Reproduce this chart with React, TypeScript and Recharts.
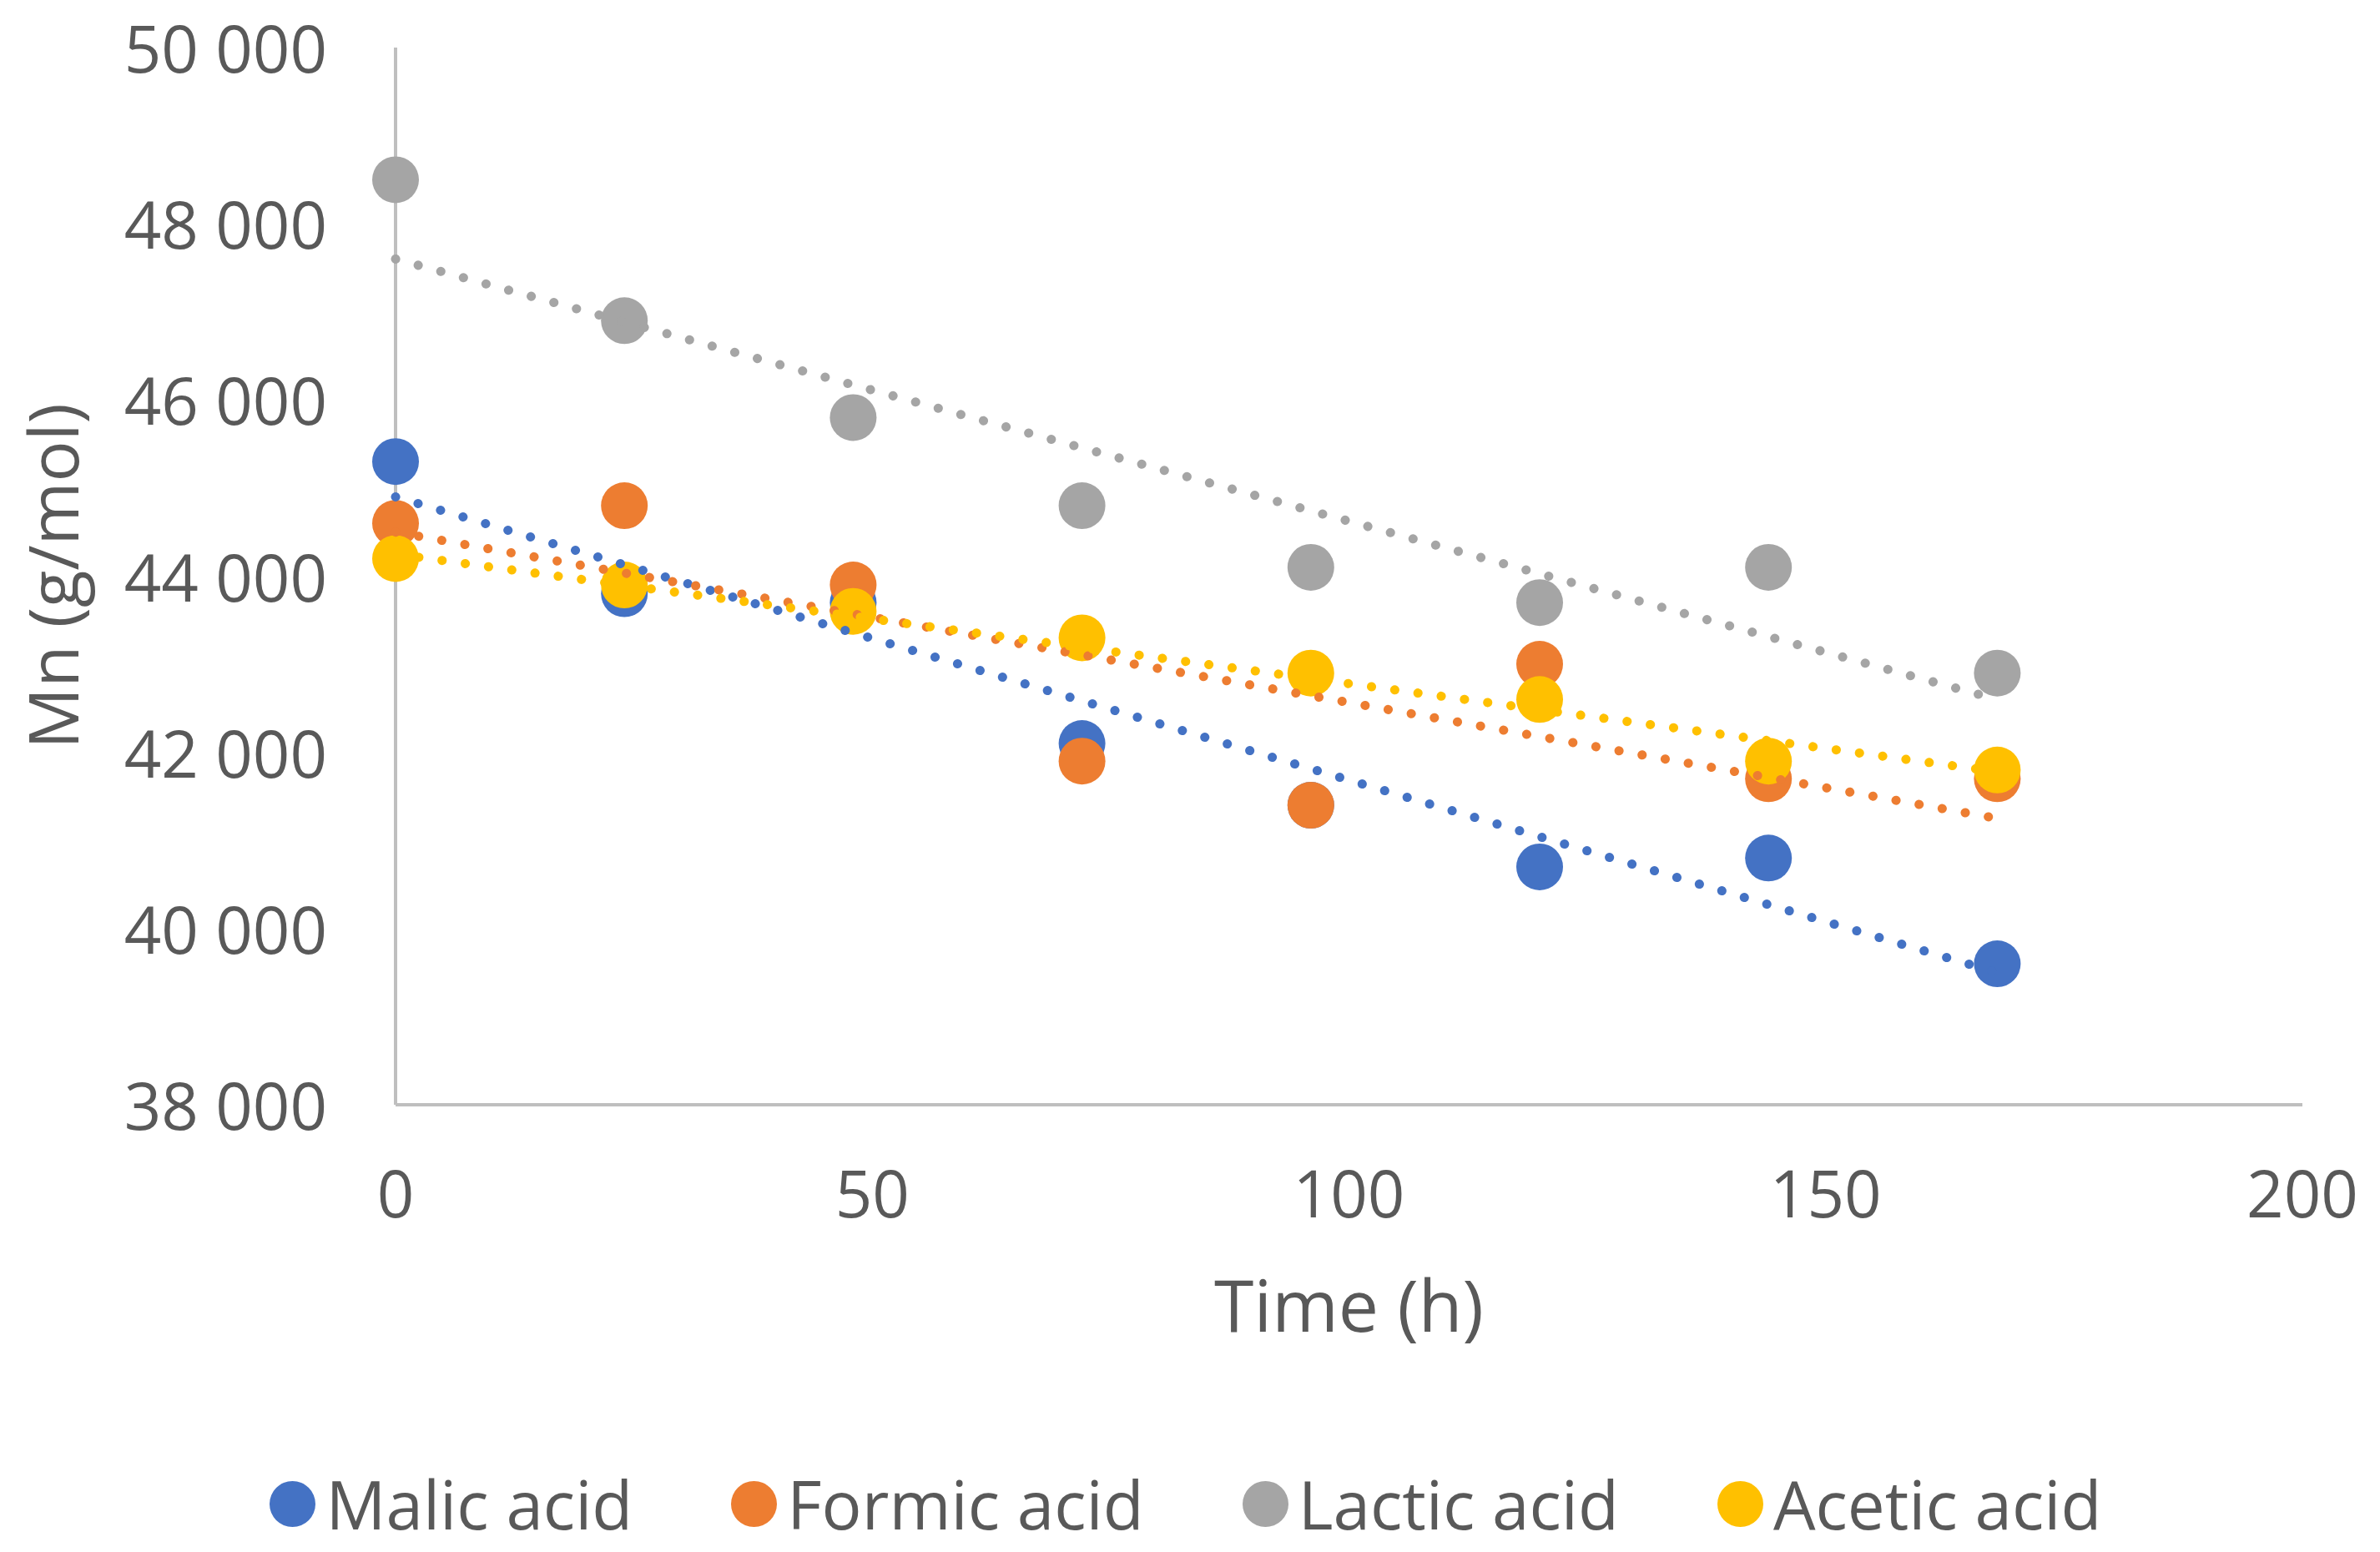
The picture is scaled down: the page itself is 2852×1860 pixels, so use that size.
import React from 'react';
import { ScatterChart, Scatter, XAxis, YAxis, Legend } from 'recharts';

// Mn over time for four acids, plus Excel-style linear trendlines
const hours = [0, 24, 48, 72, 96, 120, 144, 168];
const malic = [45300, 43800, 43700, 42100, 41400, 40700, 40800, 39600];
const formic = [44600, 44800, 43900, 41900, 41400, 43000, 41700, 41700];
const lactic = [48500, 46900, 45800, 44800, 44100, 43700, 44100, 42900];
const acetic = [44200, 43900, 43600, 43300, 42900, 42600, 41900, 41800];

// trendline end points
const trendHours = [0, 168];
const malicTrend = [44900, 39500];
const formicTrend = [44500, 41250];
const lacticTrend = [47600, 42600];
const aceticTrend = [44250, 41780];

const xTicks = [0, 50, 100, 150, 200];
const yTicks = [38000, 40000, 42000, 44000, 46000, 48000, 50000];

const FONT = '"Open Sans", "Noto Sans", sans-serif';
const TEXT = '#595959';

const series = [
    { name: 'Malic acid', color: '#4472C4', values: malic, trend: malicTrend },
    { name: 'Formic acid', color: '#ED7D31', values: formic, trend: formicTrend },
    { name: 'Lactic acid', color: '#A5A5A5', values: lactic, trend: lacticTrend },
    { name: 'Acetic acid', color: '#FFC000', values: acetic, trend: aceticTrend },
];

const toPoints = (xs: number[], ys: number[]) => xs.map((x, i) => ({ x, y: ys[i] }));

const fmtThousands = (v: number) => {
    const s = String(v);
    return s.length > 3 ? s.slice(0, s.length - 3) + ' ' + s.slice(-3) : s;
};

const YTick = ({ x, y, payload }: any) => (
    <text x={x - 74} y={y} textAnchor="end" dominantBaseline="central" fill={TEXT} fontSize={78} fontFamily={FONT}>
        {fmtThousands(payload.value)}
    </text>
);

const XTick = ({ x, y, payload }: any) => (
    <text x={x} y={y + 97} textAnchor="middle" dominantBaseline="central" fill={TEXT} fontSize={78} fontFamily={FONT}>
        {payload.value}
    </text>
);

const Dot = (color: string) => (props: any) => <circle cx={props.cx} cy={props.cy} r={28} fill={color} />;
const NoDot = () => <g />;

const LegendContent = () => (
    <div style={{ display: 'flex', justifyContent: 'center', alignItems: 'center', gap: 118, height: 104, paddingRight: 10 }}>
        {series.map((s) => (
            <div key={s.name} style={{ display: 'flex', alignItems: 'center' }}>
                <svg width={55} height={55}>
                    <circle cx={27.5} cy={27.5} r={27.5} fill={s.color} />
                </svg>
                <span style={{ marginLeft: 12, fontFamily: FONT, fontSize: 80, color: TEXT, lineHeight: '104px' }}>
                    {s.name}
                </span>
            </div>
        ))}
    </div>
);

const App: React.FC = () => {
    return (
        <div style={{ position: 'absolute', left: 0, top: 0, background: '#fff' }}>
            <ScatterChart width={2852} height={1860} margin={{ top: 57, right: 93, bottom: 336, left: 0 }}>
                <XAxis
                    type="number"
                    dataKey="x"
                    domain={[0, 200]}
                    ticks={xTicks}
                    height={200}
                    tick={<XTick />}
                    tickLine={false}
                    axisLine={{ stroke: '#BFBFBF', strokeWidth: 4 }}
                    label={{
                        content: ({ viewBox }: any) => (
                            <text
                                x={viewBox.x + viewBox.width / 2}
                                y={1562}
                                textAnchor="middle"
                                dominantBaseline="central"
                                fill={TEXT}
                                fontSize={86}
                                fontFamily={FONT}
                            >
                                Time (h)
                            </text>
                        ),
                    }}
                />
                <YAxis
                    type="number"
                    dataKey="y"
                    domain={[38000, 50000]}
                    ticks={yTicks}
                    width={474}
                    tick={<YTick />}
                    tickLine={false}
                    axisLine={{ stroke: '#BFBFBF', strokeWidth: 4 }}
                    label={{
                        content: ({ viewBox }: any) => {
                            const cy = viewBox.y + viewBox.height / 2;
                            return (
                                <text
                                    x={62}
                                    y={cy}
                                    transform={`rotate(-90, 62, ${cy})`}
                                    textAnchor="middle"
                                    dominantBaseline="central"
                                    fill={TEXT}
                                    fontSize={82}
                                    fontFamily={FONT}
                                >
                                    Mn (g/mol)
                                </text>
                            );
                        },
                    }}
                />
                {series.map((s) => (
                    <Scatter
                        key={s.name}
                        name={s.name}
                        data={toPoints(hours, s.values)}
                        fill={s.color}
                        shape={Dot(s.color)}
                        isAnimationActive={false}
                    />
                ))}
                {series.map((s) => (
                    <Scatter
                        key={s.name + '-trend'}
                        name={s.name + ' trend'}
                        data={toPoints(trendHours, s.trend)}
                        shape={NoDot}
                        legendType="none"
                        line={{
                            stroke: s.color,
                            strokeWidth: 11,
                            strokeDasharray: '0.1 28',
                            strokeLinecap: 'round',
                        }}
                        isAnimationActive={false}
                    />
                ))}
                <Legend
                    layout="horizontal"
                    verticalAlign="middle"
                    align="center"
                    content={<LegendContent />}
                    wrapperStyle={{ top: 1750, left: 0, width: 2852 }}
                />
            </ScatterChart>
        </div>
    );
};

export default App;
